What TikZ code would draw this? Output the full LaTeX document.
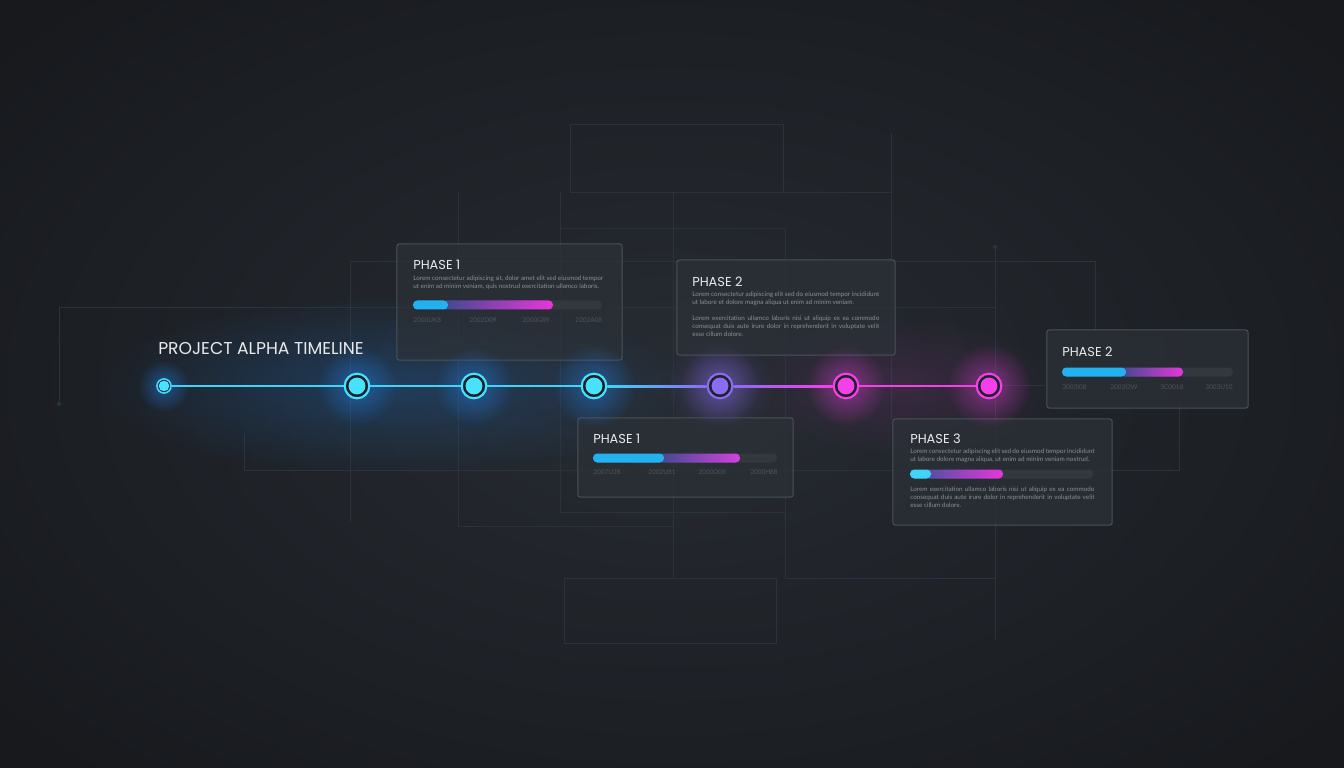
\documentclass[tikz,border=0pt]{standalone}
\usepackage{fontspec}
\setmainfont{Lato}
\newfontfamily\headfont{Poppins}
\usetikzlibrary{positioning,calc,fadings}

\definecolor{bgin}{HTML}{272C33}
\definecolor{bgout}{HTML}{17191D}
\definecolor{bgdark}{HTML}{1E232A}
\definecolor{gridc}{HTML}{2A333D}
\definecolor{cardfill}{HTML}{2C3138}
\definecolor{cardedge}{HTML}{4A5159}
\definecolor{lcyan}{HTML}{40D4F8}
\definecolor{lpurple}{HTML}{8A6CF2}
\definecolor{lmagenta}{HTML}{F540EA}
\definecolor{dotcyan}{HTML}{48E2FF}
\definecolor{track}{HTML}{33383F}
\definecolor{barcyan}{HTML}{22B2F2}
\definecolor{barblue}{HTML}{3E4A8E}
\definecolor{barmag}{HTML}{E836DC}
\definecolor{bodytext}{HTML}{8A9098}
\definecolor{datetext}{HTML}{4E555E}
\definecolor{headtext}{HTML}{E8EAEC}
\definecolor{glowblue}{HTML}{1E8CFF}

\tikzfading[name=glowfade, inner color=transparent!25, outer color=transparent!100]

\tikzset{
  gridline/.style={draw=gridc, line width=0.6pt},
  card/.style={draw=cardedge, fill=cardfill, fill opacity=0.72, line width=0.7pt, rounded corners=1.5pt, inner sep=0pt},
  dot/.style={circle, draw=#1, fill=bgdark, line width=1.5pt, minimum size=17.5pt, inner sep=0pt,
    path picture={\fill[#1] (path picture bounding box.center) circle (6pt);}},
  startdot/.style={circle, draw=lcyan, fill=bgdark, line width=1.2pt, minimum size=10pt, inner sep=0pt,
    path picture={\fill[dotcyan] (path picture bounding box.center) circle (3.8pt);}},
  tline/.style={line width=1.4pt},
  glow/.style={fill=#1, path fading=glowfade, fill opacity=0.6},
  maintitle/.style={font=\headfont\fontsize{12.2}{14}\selectfont, text=headtext, inner sep=0pt},
  phasetitle/.style={font=\headfont\fontsize{9.2}{11}\selectfont, text=headtext, inner sep=0pt},
  lorem/.style={font=\fontsize{4.5}{5.7}\selectfont, text=bodytext, inner sep=0pt, align=justify},
  datelabel/.style={font=\fontsize{4.6}{5}\selectfont, text=datetext, inner sep=0pt}
}

\newcommand\phasebar[6]{%
  \fill[track, rounded corners=3pt] (#1,#5-4.5) rectangle (#4,#5+4.5);
  \shade[left color=barblue, right color=#6, rounded corners=3pt] (#2-6,#5-4.5) rectangle (#3,#5+4.5);
  \fill[barcyan, rounded corners=3pt] (#1,#5-4.5) rectangle (#2,#5+4.5);
}

\begin{document}
\begin{tikzpicture}[x=0.025cm, y=-0.025cm]
\useasboundingbox (0,0) rectangle (1344,768);
\shade[inner color=bgin, outer color=bgout] (-200,-150) rectangle (1544,918);

\draw[gridline] (570,124) rectangle (783,192);
\draw[gridline] (458,192) -- (458,526) -- (673,526);
\draw[gridline] (560,192) -- (560,512) -- (785,512) -- (785,228) -- (560,228);
\draw[gridline] (570,192) -- (891,192);
\draw[gridline] (891,133) -- (891,419);
\draw[gridline] (673,192) -- (673,578);
\draw[gridline] (350,522) -- (350,261) -- (1095,261) -- (1095,330);
\draw[gridline] (59,404) -- (59,307) -- (995,307);
\fill[gridc] (59,404) circle (1.5pt);
\draw[gridline] (995,247) -- (995,640);
\fill[gridc] (995,247) circle (1.5pt);
\draw[gridline] (244,433) -- (244,470) -- (1179,470) -- (1179,400);
\draw[gridline] (785,512) -- (785,578) -- (995,578);
\draw[gridline] (564,578) rectangle (776,643);
\draw[gridline] (1002,385) -- (1045,385);

\fill[glowblue, path fading=glowfade, fill opacity=0.3] (390,386) ellipse (300 and 90);
\fill[lmagenta, path fading=glowfade, fill opacity=0.15] (900,386) ellipse (160 and 70);
\fill[lpurple, path fading=glowfade, fill opacity=0.3] (720,386) circle (55);

\node[card, minimum width=5.625cm, minimum height=2.9cm] (card1) at (509.5,302) {};
\node[card, minimum width=5.45cm, minimum height=2.375cm] (card2) at (786,307.5) {};
\node[card, minimum width=5.375cm, minimum height=1.975cm] (card3) at (685.5,457.5) {};
\node[card, minimum width=5.475cm, minimum height=2.65cm] (card4) at (1002.5,472) {};
\node[card, minimum width=5.025cm, minimum height=1.95cm] (card5) at (1147.5,369) {};

\fill[glow=glowblue] (164,386) circle (26);
\fill[glow=glowblue] (357,386) circle (40);
\fill[glow=glowblue] (474,386) circle (40);
\fill[glow=glowblue] (594,386) circle (42);
\fill[glow=lpurple] (720,386) circle (40);
\fill[glow=lmagenta] (846,386) circle (40);
\fill[glow=lmagenta] (989,386) circle (42);

\node[startdot] (n1) at (164,386) {};
\node[dot=dotcyan] (n2) at (357,386) {};
\node[dot=dotcyan] (n3) at (474,386) {};
\node[dot=dotcyan] (n4) at (594,386) {};
\node[dot=lpurple] (n5) at (720,386) {};
\node[dot=lmagenta] (n6) at (846,386) {};
\node[dot=lmagenta] (n7) at (989,386) {};

\draw[tline, lcyan] (n1) -- (n2);
\draw[tline, lcyan] (n2) -- (n3);
\draw[tline, lcyan] (n3) -- (n4);
\shade[left color=lcyan, right color=lpurple] ($(n4.east)+(0,-1)$) rectangle ($(n5.west)+(0,1)$);
\shade[left color=lpurple, right color=lmagenta] ($(n5.east)+(0,-1)$) rectangle ($(n6.west)+(0,1)$);
\draw[tline, lmagenta] (n6) -- (n7);

\node[maintitle, anchor=base west] (title) at (158,354) {PROJECT ALPHA TIMELINE};

\node[phasetitle, anchor=base west] (t1) at (413,270) {PHASE 1};
\node[lorem, anchor=north west, text width=135pt] (l1) at (413,276) {Lorem consectetur adipiscing sit, dolor amet elit sed eiusmod tempor ut enim ad minim veniam, quis nostrud exercitation ullamco laboris.};
\phasebar{413}{448}{553}{602}{305}{barmag}
\node[datelabel, anchor=west] (d11) at (413,320) {2000UK8};
\node[datelabel, anchor=west] (d12) at (469,320) {2002D09};
\node[datelabel, anchor=west] (d13) at (522,320) {2000GR9};
\node[datelabel, anchor=west] (d14) at (575,320) {2202A08};

\node[phasetitle, anchor=base west] (t2) at (692,286) {PHASE 2};
\node[lorem, anchor=north west, text width=133pt] (l2) at (692,292) {Lorem consectetur adipiscing elit sed do eiusmod tempor incididunt ut labore et dolore magna aliqua ut enim ad minim veniam.};
\node[lorem, anchor=north west, text width=133pt] (l3) at (692,316) {Lorem exercitation ullamco laboris nisi ut aliquip ex ea commodo consequat duis aute irure dolor in reprehenderit in voluptate velit esse cillum dolore.};

\node[phasetitle, anchor=base west] (t3) at (593,443) {PHASE 1};
\phasebar{593}{664}{740}{777}{458}{barmag!80!lpurple}
\node[datelabel, anchor=west] (d31) at (593,472) {2007U28};
\node[datelabel, anchor=west] (d32) at (648,472) {2002U81};
\node[datelabel, anchor=west] (d33) at (698,472) {2000O08};
\node[datelabel, anchor=west] (d34) at (750,472) {2000H88};

\node[phasetitle, anchor=base west] (t4) at (910,443) {PHASE 3};
\node[lorem, anchor=north west, text width=131pt] (l4) at (910,449) {Lorem consectetur adipiscing elit sed do eiusmod tempor incididunt ut labore dolore magna aliqua, ut enim ad minim veniam nostrud.};
\fill[track, rounded corners=3pt] (910,469.5) rectangle (1093,478.5);
\shade[left color=barblue!80!lpurple, right color=barmag, rounded corners=3pt] (925,469.5) rectangle (1003,478.5);
\fill[lcyan, rounded corners=3pt] (910,469.5) rectangle (931,478.5);
\node[lorem, anchor=north west, text width=131pt] (l5) at (910,487) {Lorem exercitation ullamco laboris nisi ut aliquip ex ea commodo consequat duis aute irure dolor in reprehenderit in voluptate velit esse cillum dolore.};

\node[phasetitle, anchor=base west] (t5) at (1062,356) {PHASE 2};
\phasebar{1062}{1126}{1183}{1233}{372}{barmag}
\node[datelabel, anchor=west] (d51) at (1062,387) {3003I08};
\node[datelabel, anchor=west] (d52) at (1110,387) {2003I3W};
\node[datelabel, anchor=west] (d53) at (1160,387) {3C0018};
\node[datelabel, anchor=west] (d54) at (1205,387) {3003U10};
\end{tikzpicture}
\end{document}
